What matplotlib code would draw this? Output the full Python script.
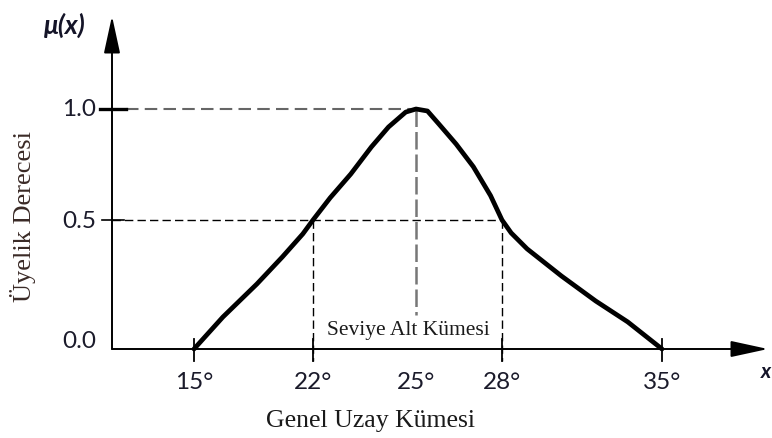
import numpy as np
import matplotlib.pyplot as plt

# membership curve
temp = [15, 16.7, 18.7, 20.2, 21.4, 22, 22.5, 23.1, 23.7, 24.2, 24.7, 25, 25.4, 25.8,
        26.4, 27.0, 27.6, 28, 28.4, 29.1, 30.6, 32.1, 33.5, 35]
mu = [0, 0.124, 0.252, 0.357, 0.446, 0.5, 0.6, 0.707, 0.829, 0.919, 0.986, 1.0, 0.991, 0.932,
      0.842, 0.74, 0.61, 0.5, 0.45, 0.388, 0.283, 0.186, 0.105, 0]

x_ticks = [15, 22, 25, 28, 35]
x_labels = ['15°', '22°', '25°', '28°', '35°']
y_ticks = [0.0, 0.5, 1.0]
y_labels = ['0.0', '0.5', '1.0']
alpha_cut = 0.5
peak = 25
cut_lo, cut_hi = 22, 28

W, H = 772, 439

# the drawing is not evenly spaced, so map values to pixels piecewise
def piecewise(k_in, k_out):
    k_in = np.asarray(k_in, float)
    k_out = np.asarray(k_out, float)
    s0 = (k_out[1] - k_out[0]) / (k_in[1] - k_in[0])
    s1 = (k_out[-1] - k_out[-2]) / (k_in[-1] - k_in[-2])

    def f(v):
        v = np.asarray(v, float)
        out = np.interp(v, k_in, k_out)
        out = np.where(v < k_in[0], k_out[0] + (v - k_in[0]) * s0, out)
        out = np.where(v > k_in[-1], k_out[-1] + (v - k_in[-1]) * s1, out)
        return out
    return f

x_px = [194, 313, 416, 502, 662]
y_px = [H - 350, H - 221, H - 110]
fx, fx_inv = piecewise(x_ticks, x_px), piecewise(x_px, x_ticks)
fy, fy_inv = piecewise(y_ticks, y_px), piecewise(y_px, y_ticks)

def px(p):
    return float(fx_inv(p))

def py(p):
    return float(fy_inv(H - p))

fig = plt.figure(figsize=(W / 100, H / 100), dpi=100)
ax = fig.add_axes([0, 0, 1, 1])
ax.set_xscale('function', functions=(fx, fx_inv))
ax.set_yscale('function', functions=(fy, fy_inv))
ax.set_xlim(px(0), px(W))
ax.set_ylim(py(H), py(0))
ax.axis('off')

x0 = px(112)  # where the vertical axis stands

# axes with arrow heads
arrow = dict(arrowstyle='-|>,head_length=2.3,head_width=0.5', color='black',
             lw=1.4, shrinkA=0, shrinkB=0)
ax.annotate('', xy=(px(768), 0), xytext=(x0, 0), arrowprops=arrow)
ax.annotate('', xy=(x0, py(17)), xytext=(x0, 0), arrowprops=arrow)

# guide lines
ax.plot([px(126), peak], [1, 1], color='#666666', lw=1.5, dashes=(6, 3))
ax.plot([x0, cut_hi], [alpha_cut, alpha_cut], color='black', lw=1.0, dashes=(6, 3))
for xv in (cut_lo, cut_hi):
    ax.plot([xv, xv], [alpha_cut, py(362)], color='black', lw=1.0, dashes=(6, 3))
ax.plot([peak, peak], [1, py(316)], color='#777777', lw=1.8, dashes=(7, 2))

# ticks
for xv in (15, cut_lo, cut_hi, 35):
    ax.plot([xv, xv], [py(340), py(362)], color='black', lw=1.3)
ax.plot([px(100), px(126)], [1, 1], color='black', lw=2.4)
ax.plot([px(102), px(124)], [0.5, 0.5], color='black', lw=1.2)

# membership curve
ax.plot(temp, mu, color='black', lw=3.4, solid_joinstyle='round', solid_capstyle='round')

# labels
tick_font = dict(family='Lato', fontsize=17.5, color='#1b1b2b')
for yv, lab in zip(y_ticks, y_labels):
    ax.text(px(96), yv if yv > 0 else py(342), lab, ha='right', va='center', **tick_font)
for xv, lab in zip(x_ticks, x_labels):
    ax.text(xv, py(383), lab, ha='center', va='center', **tick_font)

ax.text(px(44), py(25), 'μ(x)', family='Lato', fontsize=19, fontweight='bold',
        style='italic', color='#141428', ha='left', va='center')
ax.text(px(761), py(372), 'x', family='Lato', fontsize=15, fontweight='bold',
        style='italic', color='#141428', ha='left', va='center')

serif = dict(family='Liberation Serif', color='#1a1a1a')
ax.text(px(370), py(421), 'Genel Uzay Kümesi', ha='center', va='center',
        fontsize=18.5, **serif)
ax.text(px(408), py(331), 'Seviye Alt Kümesi', ha='center', va='center',
        fontsize=15.5, **serif)
ax.text(px(23), py(216), 'Üyelik Derecesi', ha='center', va='center',
        rotation=90, fontsize=19, family='Liberation Serif', color='#3a2a26')

fig.savefig('out.png', dpi=100)
